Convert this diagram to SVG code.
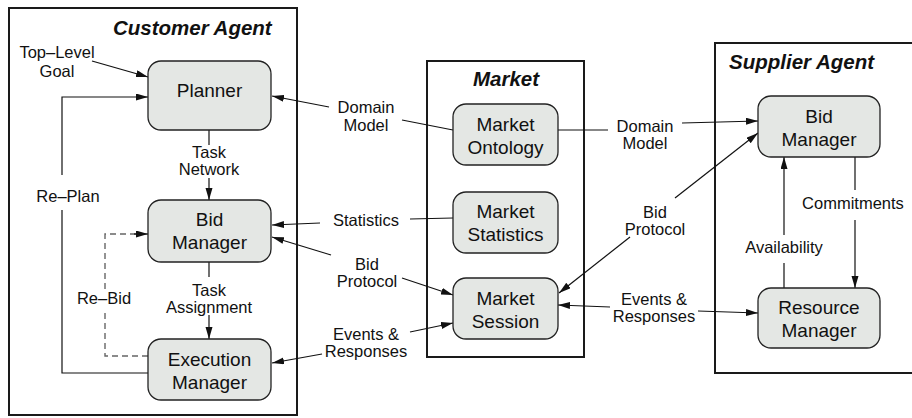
<svg xmlns="http://www.w3.org/2000/svg" width="912" height="418" viewBox="0 0 912 418">
  <style>
    .frame { fill: none; stroke: #1a1a1a; stroke-width: 2; }
    .node rect { fill: #e4e7e4; stroke: #222; stroke-width: 1.3; }
    .node text { font-family: "Liberation Sans", Arial, sans-serif; font-size: 19px; fill: #111; text-anchor: middle; }
    .title { font-family: "Liberation Sans", Arial, sans-serif; font-size: 20.5px; font-weight: bold; font-style: italic; fill: #111; }
    .lbl { font-family: "Liberation Sans", Arial, sans-serif; font-size: 16.5px; fill: #111; text-anchor: middle; }
    .edge { fill: none; stroke: #111; stroke-width: 1.2; }
    .arrow { marker-end: url(#head); }
    .dash { fill: none; stroke: #666; stroke-width: 1.4; stroke-dasharray: 6 4; }
  </style>
  <defs>
    <marker id="head" markerUnits="userSpaceOnUse" markerWidth="13" markerHeight="8" refX="12" refY="3.5" orient="auto">
      <path d="M0,0 L12,3.5 L0,7 z" fill="#111"/>
    </marker>
  </defs>

  <!-- container frames -->
  <g id="customer-agent">
    <rect class="frame" x="9" y="8" width="288" height="407"/>
    <text class="title" x="113" y="35">Customer Agent</text>
  </g>
  <g id="market">
    <rect class="frame" x="427" y="61" width="157" height="296"/>
    <text class="title" x="506" y="86" text-anchor="middle">Market</text>
  </g>
  <g id="supplier-agent">
    <rect class="frame" x="715" y="43" width="210" height="330"/>
    <text class="title" x="729" y="69">Supplier Agent</text>
  </g>

  <!-- connectors -->
  <g id="connectors">
    <line class="edge arrow" x1="92" y1="61" x2="148" y2="77"/>
    <polyline class="edge" points="148,373 62,373 62,210"/>
    <polyline class="edge arrow" points="62,175 62,97 148,97"/>
    <line class="edge" x1="209" y1="130" x2="209" y2="145"/>
    <line class="edge arrow" x1="209" y1="178" x2="209" y2="200"/>
    <line class="edge" x1="209" y1="262" x2="209" y2="277"/>
    <line class="edge arrow" x1="209" y1="315" x2="209" y2="339"/>
    <polyline class="dash" points="148,356 105,356 105,313"/>
    <polyline class="dash" points="105,289 105,234 136,234"/>
    <line class="edge arrow" x1="134" y1="234" x2="148" y2="234"/>
    <line class="edge" x1="453" y1="130" x2="402" y2="120"/>
    <line class="edge arrow" x1="329" y1="107" x2="272" y2="96"/>
    <line class="edge" x1="453" y1="218" x2="410" y2="219"/>
    <line class="edge arrow" x1="320" y1="223" x2="272" y2="225"/>
    <line class="edge arrow" x1="331" y1="255" x2="272" y2="237"/>
    <line class="edge arrow" x1="402" y1="278" x2="453" y2="295"/>
    <line class="edge arrow" x1="410" y1="332" x2="453" y2="323"/>
    <line class="edge arrow" x1="322" y1="354" x2="272" y2="363"/>
    <line class="edge" x1="558" y1="130" x2="608" y2="130"/>
    <line class="edge arrow" x1="682" y1="123" x2="758" y2="121"/>
    <line class="edge arrow" x1="675" y1="198" x2="758" y2="133"/>
    <line class="edge arrow" x1="630" y1="237" x2="559" y2="293"/>
    <line class="edge arrow" x1="610" y1="307" x2="558" y2="305"/>
    <line class="edge arrow" x1="698" y1="311" x2="758" y2="313"/>
    <line class="edge" x1="855" y1="157" x2="855" y2="190"/>
    <line class="edge arrow" x1="855" y1="220" x2="855" y2="288"/>
    <line class="edge" x1="784" y1="288" x2="784" y2="263"/>
    <line class="edge arrow" x1="784" y1="235" x2="784" y2="157"/>

    <!-- connector labels -->
    <text class="lbl" x="57" y="57.5">Top–Level</text>
    <text class="lbl" x="57" y="77">Goal</text>
    <text class="lbl" x="68" y="202">Re–Plan</text>
    <text class="lbl" x="209" y="157.5">Task</text>
    <text class="lbl" x="209" y="174.5">Network</text>
    <text class="lbl" x="209" y="295.5">Task</text>
    <text class="lbl" x="209" y="312.5">Assignment</text>
    <text class="lbl" x="104" y="304">Re–Bid</text>
    <text class="lbl" x="366" y="112.5">Domain</text>
    <text class="lbl" x="366" y="131">Model</text>
    <text class="lbl" x="366" y="226">Statistics</text>
    <text class="lbl" x="367" y="269.5">Bid</text>
    <text class="lbl" x="367" y="287">Protocol</text>
    <text class="lbl" x="366" y="339.5">Events &amp;</text>
    <text class="lbl" x="366" y="357">Responses</text>
    <text class="lbl" x="645" y="131.5">Domain</text>
    <text class="lbl" x="645" y="149">Model</text>
    <text class="lbl" x="655" y="217.5">Bid</text>
    <text class="lbl" x="655" y="235">Protocol</text>
    <text class="lbl" x="654" y="304.5">Events &amp;</text>
    <text class="lbl" x="654" y="322">Responses</text>
    <text class="lbl" x="853" y="209">Commitments</text>
    <text class="lbl" x="784" y="253">Availability</text>
  </g>

  <!-- nodes -->
  <g id="planner" class="node">
    <rect x="148" y="61" width="123" height="69" rx="13"/>
    <text x="209.5" y="97">Planner</text>
  </g>
  <g id="customer-bid-manager" class="node">
    <rect x="148" y="200" width="123" height="62" rx="13"/>
    <text x="209.5" y="226">Bid</text>
    <text x="209.5" y="249">Manager</text>
  </g>
  <g id="execution-manager" class="node">
    <rect x="148" y="339" width="123" height="61" rx="13"/>
    <text x="209.5" y="366">Execution</text>
    <text x="209.5" y="389">Manager</text>
  </g>
  <g id="market-ontology" class="node">
    <rect x="453" y="104" width="105" height="61" rx="13"/>
    <text x="505.5" y="131">Market</text>
    <text x="505.5" y="154">Ontology</text>
  </g>
  <g id="market-statistics" class="node">
    <rect x="453" y="192" width="105" height="61" rx="13"/>
    <text x="505.5" y="218">Market</text>
    <text x="505.5" y="241">Statistics</text>
  </g>
  <g id="market-session" class="node">
    <rect x="453" y="278" width="105" height="61" rx="13"/>
    <text x="505.5" y="305">Market</text>
    <text x="505.5" y="328">Session</text>
  </g>
  <g id="supplier-bid-manager" class="node">
    <rect x="758" y="96" width="122" height="61" rx="13"/>
    <text x="819" y="123">Bid</text>
    <text x="819" y="146">Manager</text>
  </g>
  <g id="resource-manager" class="node">
    <rect x="758" y="288" width="122" height="60" rx="13"/>
    <text x="819" y="337">Manager</text>
    <text x="819" y="314">Resource</text>
  </g>
</svg>
